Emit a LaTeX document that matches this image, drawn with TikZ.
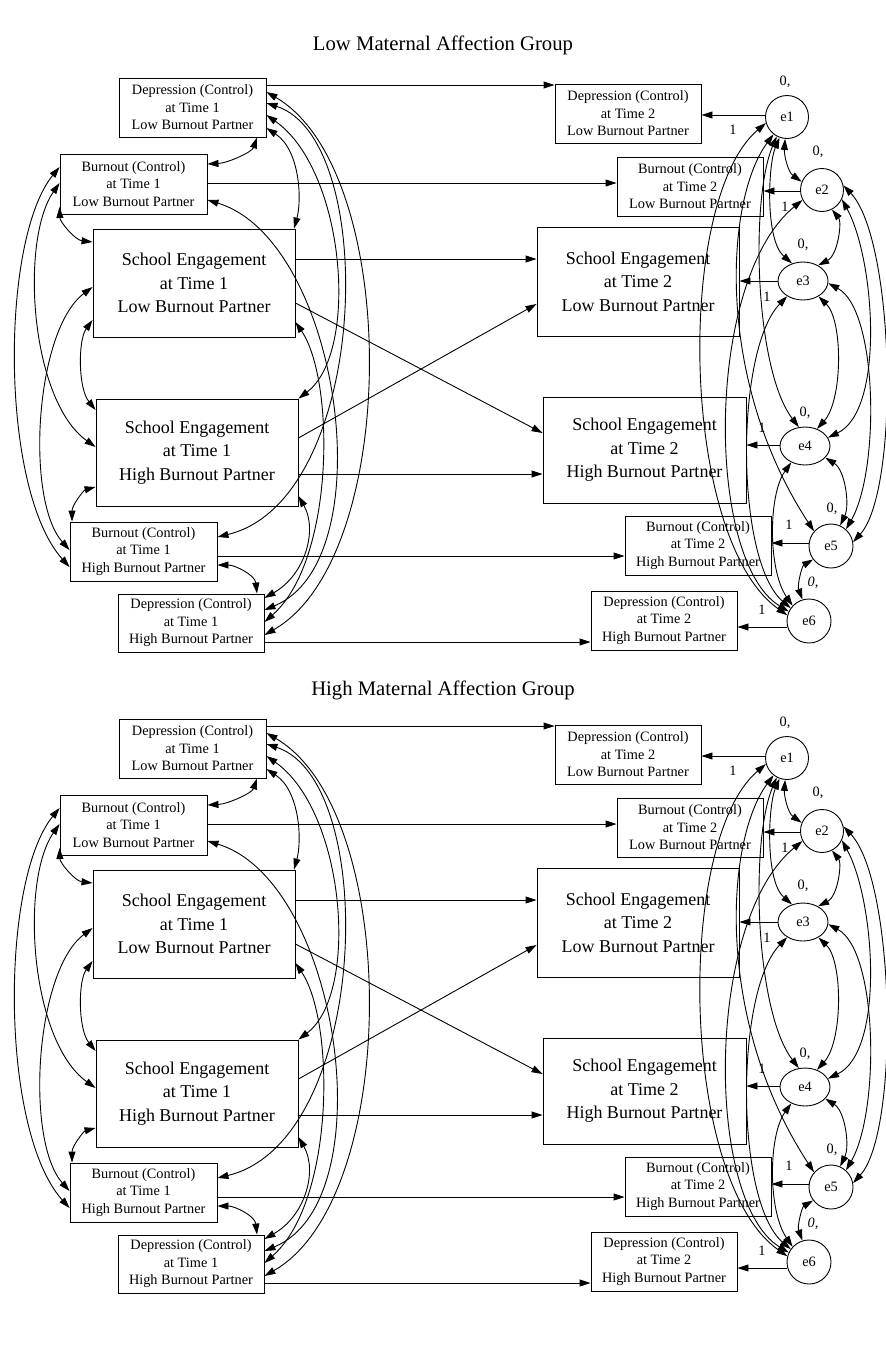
\documentclass[tikz,border=0pt]{standalone}
\usepackage{fontspec}
\setmainfont{Liberation Serif}
\usetikzlibrary{arrows.meta,shapes.geometric}
\tikzset{
  sbox/.style={draw, rectangle, inner sep=0pt, align=center, font=\fontsize{14.3}{17.5}\selectfont},
  bbox/.style={draw, rectangle, inner sep=0pt, align=center, font=\fontsize{18}{23.5}\selectfont},
  errc/.style={draw, circle, minimum size=43pt, inner sep=0pt, font=\fontsize{14.3}{17}\selectfont},
  erre/.style={draw, ellipse, minimum width=50pt, minimum height=38pt, inner sep=0pt, font=\fontsize{14.3}{17}\selectfont},
  arr/.style={-{Triangle[length=11pt,width=7pt]}},
  dbl/.style={{Triangle[length=11pt,width=7pt]}-{Triangle[length=11pt,width=7pt]}},
  lbl/.style={font=\fontsize{14.3}{17}\selectfont, inner sep=0pt},
  ttl/.style={font=\fontsize{20.7}{24}\selectfont, inner sep=0pt}
}
\newcommand\drawpanel[2]{%
\begin{scope}[shift={(0,#2)}]
% exogenous boxes
\node[sbox, minimum width=147pt, minimum height=59pt] (#1DL) at (192.5,107.5) {Depression (Control)\\at Time 1\\Low Burnout Partner};
\node[sbox, minimum width=147pt, minimum height=60pt] (#1BL) at (133.5,184) {Burnout (Control)\\at Time 1\\Low Burnout Partner};
\node[bbox, minimum width=202pt, minimum height=108pt] (#1SL) at (194,283) {School Engagement\\at Time 1\\Low Burnout Partner};
\node[bbox, minimum width=202pt, minimum height=107pt] (#1SH) at (197,452.5) {School Engagement\\at Time 1\\High Burnout Partner};
\node[sbox, minimum width=147pt, minimum height=59pt] (#1BH) at (143.5,551.5) {Burnout (Control)\\at Time 1\\High Burnout Partner};
\node[sbox, minimum width=146pt, minimum height=58pt] (#1DH) at (191,623) {Depression (Control)\\at Time 1\\High Burnout Partner};
% endogenous boxes
\node[sbox, minimum width=146pt, minimum height=59pt] (#1D2L) at (628,113.5) {Depression (Control)\\at Time 2\\Low Burnout Partner};
\node[sbox, minimum width=146pt, minimum height=59pt] (#1B2L) at (690,186.5) {Burnout (Control)\\at Time 2\\Low Burnout Partner};
\node[bbox, minimum width=202pt, minimum height=109pt] (#1S2L) at (638,281.5) {School Engagement\\at Time 2\\Low Burnout Partner};
\node[bbox, minimum width=203pt, minimum height=106pt] (#1S2H) at (644.5,450) {School Engagement\\at Time 2\\High Burnout Partner};
\node[sbox, minimum width=146pt, minimum height=59pt] (#1B2H) at (698,545.5) {Burnout (Control)\\at Time 2\\High Burnout Partner};
\node[sbox, minimum width=146pt, minimum height=59pt] (#1D2H) at (664,620.5) {Depression (Control)\\at Time 2\\High Burnout Partner};
% errors
\node[errc] (#1e1) at (787,117) {e1};
\node[errc] (#1e2) at (822,190) {e2};
\node[erre] (#1e3) at (803,281) {e3};
\node[erre] (#1e4) at (805,446) {e4};
\node[errc, minimum size=44pt] (#1e5) at (831,546) {e5};
\node[errc, minimum size=44pt] (#1e6) at (809,621) {e6};
% labels
\node[lbl] (#1z1) at (785,82) {0,};
\node[lbl] (#1z2) at (818,152) {0,};
\node[lbl] (#1z3) at (803,245) {0,};
\node[lbl] (#1z4) at (805,413) {0,};
\node[lbl] (#1z5) at (832,509) {0,};
\node[lbl] (#1z6) at (813,583) {\itshape 0,};
\node[lbl] (#1o1) at (733,130) {1};
\node[lbl] (#1o2) at (785,207) {1};
\node[lbl] (#1o3) at (767,297) {1};
\node[lbl] (#1o4) at (762,428) {1};
\node[lbl] (#1o5) at (789,525) {1};
\node[lbl] (#1o6) at (762,610) {1};
% regression paths
\draw[arr] (#1DL.east |- 0,85) -- (#1D2L.west |- 0,85);
\draw[arr] (#1BL.east |- 0,183) -- (#1B2L.west |- 0,183);
\draw[arr] (#1SL.east |- 0,259) -- (#1S2L.west |- 0,259);
\draw[arr] (#1SL.east |- 0,303) -- (#1S2H.west |- 0,433);
\draw[arr] (#1SH.east |- 0,438) -- (#1S2L.west |- 0,304);
\draw[arr] (#1SH.east |- 0,474) -- (#1S2H.west |- 0,474);
\draw[arr] (#1BH.east |- 0,556) -- (#1B2H.west |- 0,556);
\draw[arr] (#1DH.east |- 0,642) -- (#1D2H.west |- 0,642);
% error paths
\draw[arr] (#1e1.west |- 0,115) -- (#1D2L.east |- 0,115);
\draw[arr] (#1e2.west |- 0,191) -- (#1B2L.east |- 0,191);
\draw[arr] (#1e3.west |- 0,281) -- (#1S2L.east |- 0,281);
\draw[arr] (#1e4.west |- 0,445) -- (#1S2H.east |- 0,445);
\draw[arr] (#1e5.west |- 0,543) -- (#1B2H.east |- 0,543);
\draw[arr] (#1e6.west |- 0,627) -- (#1D2H.east |- 0,627);
% covariances among exogenous variables
\draw[dbl] (#1DL.south -| 257,0) .. controls (252,152) and (228,163) .. (#1BL.east |- 0,164);
\draw[dbl] (#1DL.east |- 0,128) .. controls (300,150) and (302,200) .. (#1SL.north -| 294,0);
\draw[dbl] (#1DL.east |- 0,115) .. controls (345,170) and (360,352) .. (#1SH.north east);
\draw[dbl] (#1DL.east |- 0,103) .. controls (380,140) and (370,500) .. (#1BH.east |- 0,537);
\draw[dbl] (#1DL.east |- 0,92) .. controls (401,170) and (401,557) .. (#1DH.east |- 0,635);
\draw[dbl] (#1BL.west |- 0,207) .. controls (60,222) and (75,240) .. (#1SL.west |- 0,242);
\draw[dbl] (#1SL.west |- 0,320) .. controls (78,340) and (78,388) .. (#1SH.west |- 0,410);
\draw[dbl] (#1SH.west |- 0,487) .. controls (84,490) and (72,505) .. (#1BH.north -| 72,0);
\draw[dbl] (#1BL.west |- 0,183) .. controls (20,240) and (30,400) .. (#1SH.west |- 0,447);
\draw[dbl] (#1BL.west |- 0,167) .. controls (0,240) and (0,490) .. (#1BH.west |- 0,567);
\draw[dbl] (#1SL.west |- 0,287) .. controls (35,330) and (25,500) .. (#1BH.west |- 0,550);
\draw[dbl] (#1SL.east |- 0,322) .. controls (335,380) and (335,560) .. (#1DH.east |- 0,622);
\draw[dbl] (#1BL.east |- 0,200) .. controls (340,240) and (385,560) .. (#1DH.east |- 0,610);
\draw[dbl] (#1SH.east |- 0,496) .. controls (318,530) and (305,575) .. (#1DH.east |- 0,598);
\draw[dbl] (#1BH.east |- 0,565) .. controls (235,565) and (255,575) .. (#1DH.north -| 257,0);
% covariances among errors
\draw[dbl] (#1e1.265) .. controls (784,155) and (788,172) .. (#1e2.158);
\draw[dbl] (#1e1.250) .. controls (768,165) and (765,240) .. (#1e3.122);
\draw[dbl] (#1e1.242) .. controls (750,200) and (755,370) .. (#1e4.108);
\draw[dbl] (#1e1.232) .. controls (725,200) and (715,380) .. (#1e5.139);
\draw[dbl] (#1e1.196) .. controls (675,200) and (680,540) .. (#1e6.165);
\draw[dbl] (#1e2.297) .. controls (842,222) and (838,255) .. (#1e3.46);
\draw[dbl] (#1e2.335) .. controls (875,260) and (885,410) .. (#1e4.20);
\draw[dbl] (#1e2.12) .. controls (895,240) and (900,490) .. (#1e5.10);
\draw[dbl] (#1e2.207) .. controls (705,280) and (705,560) .. (#1e6.155);
\draw[dbl] (#1e3.315) .. controls (843,320) and (843,400) .. (#1e4.55);
\draw[dbl] (#1e3.355) .. controls (878,310) and (880,470) .. (#1e5.48);
\draw[dbl] (#1e3.224) .. controls (735,350) and (735,560) .. (#1e6.145);
\draw[dbl] (#1e4.330) .. controls (845,470) and (850,505) .. (#1e5.66);
\draw[dbl] (#1e4.230) .. controls (768,495) and (768,570) .. (#1e6.137);
\draw[dbl] (#1e5.217) .. controls (802,566) and (797,585) .. (#1e6.107);
\end{scope}}
\begin{document}
\begin{tikzpicture}[x=1pt, y=-1pt, line width=0.9pt]
\useasboundingbox (0,0) rectangle (886,1347);
\node[ttl] (title1) at (443,45) {Low Maternal Affection Group};
\node[ttl] (title2) at (443,690) {High Maternal Affection Group};
\drawpanel{a}{0}
\drawpanel{b}{641}
\end{tikzpicture}
\end{document}
